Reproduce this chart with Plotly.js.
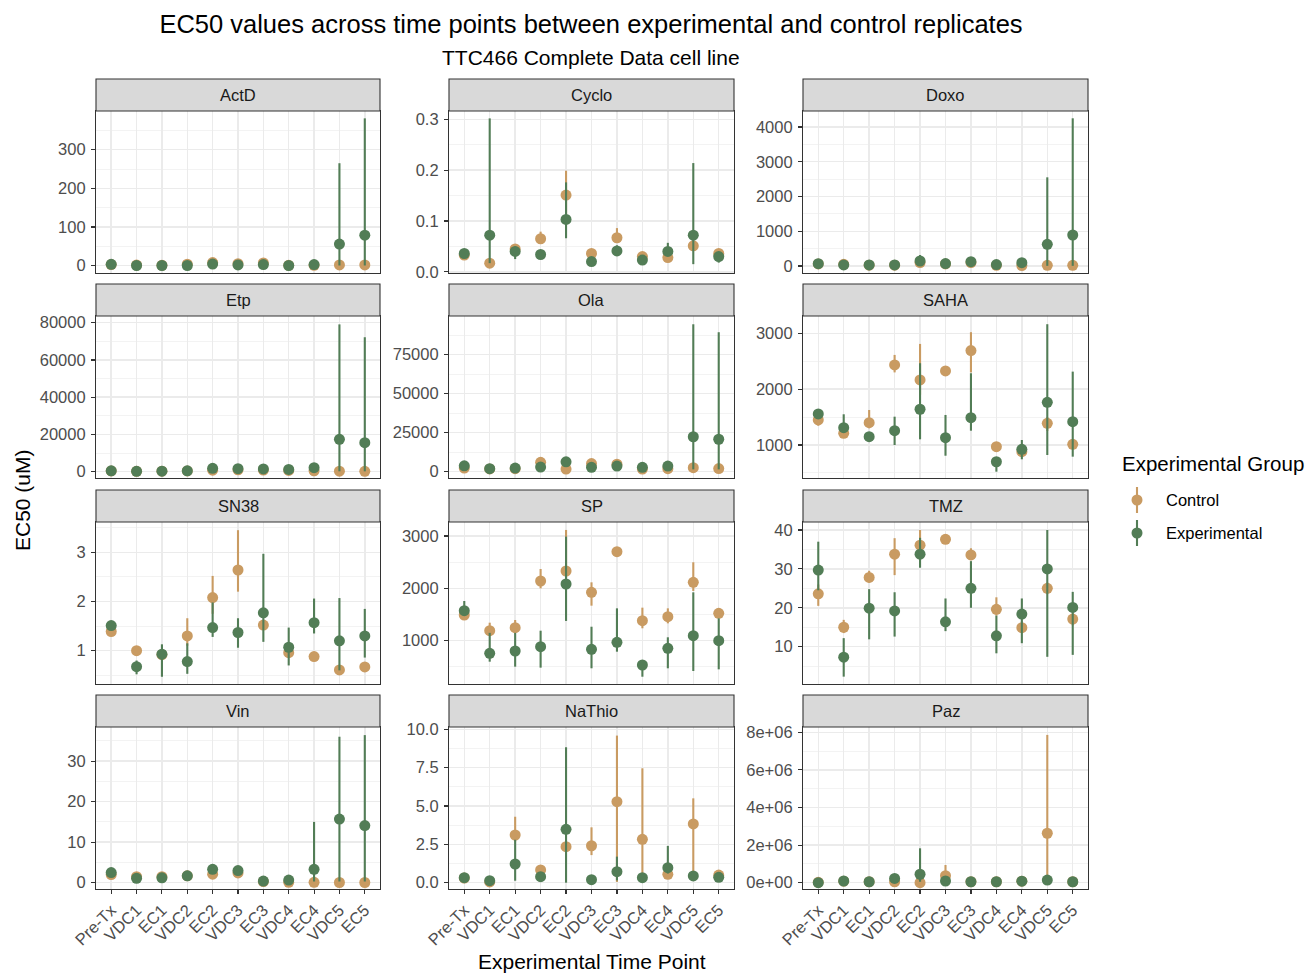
<!DOCTYPE html>
<html>
<head>
<meta charset="utf-8">
<script src="https://cdn.plot.ly/plotly-3.0.1.min.js"></script>
<style>
  html, body { margin: 0; padding: 0; background: #ffffff; }
  #chart { width: 1312px; height: 973px; }
</style>
</head>
<body>
<div id="chart"></div>
<script>
// Time points on the x axis
const timePoints = ['Pre-Tx', 'VDC1', 'EC1', 'VDC2', 'EC2', 'VDC3', 'EC3', 'VDC4', 'EC4', 'VDC5', 'EC5'];
const drugs = ['ActD', 'Cyclo', 'Doxo', 'Etp', 'Ola', 'SAHA', 'SN38', 'SP', 'TMZ', 'Vin', 'NaThio', 'Paz'];

// EC50 (uM): point estimate with lower / upper bound, per group
const actdCtrl   = [3, 1.5, 1, 4, 8, 5, 7, 1, 1, 2, 2];
const actdCtrlLo = [2, 1, 0.5, 3, 6, 4, 5, 0.5, 0.5, 1, 1];
const actdCtrlHi = [4, 2, 1.5, 5, 10, 6, 9, 1.5, 1.5, 3, 3];
const actdExp    = [3.6, 0.5, 0.5, 0.5, 4.3, 2, 3, 0.5, 3, 56, 79];
const actdExpLo  = [2.5, 0.2, 0.2, 0.2, 3, 1, 2, 0.2, 2, 0.5, 0.5];
const actdExpHi  = [5, 1, 1, 1, 6, 3, 4, 1, 4, 265, 381];

const cycloCtrl   = [0.033, 0.017, 0.045, 0.065, 0.151, 0.036, 0.067, 0.030, 0.028, 0.051, 0.036];
const cycloCtrlLo = [0.030, 0.015, 0.040, 0.058, 0.105, 0.033, 0.058, 0.027, 0.025, 0.045, 0.033];
const cycloCtrlHi = [0.036, 0.019, 0.050, 0.079, 0.199, 0.040, 0.086, 0.033, 0.031, 0.057, 0.039];
const cycloExp    = [0.036, 0.072, 0.040, 0.034, 0.103, 0.020, 0.041, 0.023, 0.040, 0.072, 0.030];
const cycloExpLo  = [0.033, 0.017, 0.025, 0.030, 0.066, 0.017, 0.035, 0.020, 0.033, 0.015, 0.018];
const cycloExpHi  = [0.040, 0.302, 0.050, 0.038, 0.176, 0.023, 0.052, 0.026, 0.057, 0.214, 0.038];

const doxoCtrl   = [60, 50, 25, 25, 100, 60, 100, 20, 15, 20, 20];
const doxoCtrlLo = [40, 30, 15, 15, 60, 40, 70, 10, 5, 10, 10];
const doxoCtrlHi = [80, 70, 35, 35, 140, 80, 130, 30, 25, 30, 30];
const doxoExp    = [67, 30, 30, 30, 144, 70, 124, 40, 95, 624, 892];
const doxoExpLo  = [40, 15, 15, 15, 60, 40, 80, 20, 40, 5, 5];
const doxoExpHi  = [95, 45, 45, 45, 317, 100, 170, 60, 150, 2552, 4250];

const etpCtrl   = [400, 200, 300, 400, 800, 1000, 900, 700, 500, 300, 200];
const etpCtrlLo = [200, 100, 150, 200, 400, 600, 500, 400, 300, 150, 100];
const etpCtrlHi = [600, 300, 450, 600, 1200, 1400, 1300, 1000, 700, 450, 300];
const etpExp    = [500, 200, 300, 500, 1800, 1600, 1500, 1200, 2150, 17400, 15600];
const etpExpLo  = [300, 100, 150, 300, 1000, 1000, 900, 700, 1200, 200, 200];
const etpExpHi  = [700, 300, 450, 700, 2600, 2200, 2100, 1700, 3000, 79100, 72200];

const olaCtrl   = [2300, 1800, 1900, 6000, 1700, 5200, 4800, 1700, 1900, 2600, 2000];
const olaCtrlLo = [1800, 1400, 1500, 5000, 1300, 4200, 4000, 1300, 1500, 2000, 1500];
const olaCtrlHi = [2800, 2200, 2300, 7000, 2100, 6200, 5600, 2100, 2300, 3200, 2500];
const olaExp    = [3800, 1900, 2300, 3000, 6300, 2800, 3600, 2800, 3600, 22400, 20800];
const olaExpLo  = [3000, 1500, 1800, 2400, 5200, 2200, 2900, 2200, 2900, 1500, 1500];
const olaExpHi  = [4600, 2300, 2800, 3600, 7400, 3400, 4300, 3400, 4300, 94500, 89400];

const sahaCtrl   = [1448, 1210, 1400, 2434, 2165, 2326, 2690, 970, 880, 1389, 1012];
const sahaCtrlLo = [1346, 1150, 1300, 2300, 1900, 2250, 2300, 900, 850, 1250, 950];
const sahaCtrlHi = [1500, 1280, 1627, 2613, 2810, 2400, 3020, 1050, 910, 1500, 1080];
const sahaExp    = [1556, 1310, 1149, 1256, 1640, 1132, 1490, 700, 923, 1765, 1418];
const sahaExpLo  = [1480, 1230, 1080, 1000, 1102, 808, 1256, 522, 744, 821, 791];
const sahaExpHi  = [1620, 1550, 1230, 1507, 2464, 1538, 2285, 780, 1090, 3163, 2314];

const sn38Ctrl   = [1.39, 1.00, 0.92, 1.30, 2.08, 2.64, 1.52, 0.96, 0.88, 0.61, 0.67];
const sn38CtrlLo = [1.33, 0.95, 0.85, 1.10, 1.75, 2.20, 1.45, 0.90, 0.83, 0.57, 0.62];
const sn38CtrlHi = [1.45, 1.05, 1.00, 1.66, 2.52, 3.45, 1.60, 1.02, 0.93, 0.66, 0.72];
const sn38Exp    = [1.51, 0.675, 0.93, 0.78, 1.47, 1.37, 1.77, 1.07, 1.57, 1.20, 1.30];
const sn38ExpLo  = [1.42, 0.52, 0.47, 0.53, 1.28, 1.06, 1.18, 0.70, 1.35, 0.60, 0.86];
const sn38ExpHi  = [1.60, 0.80, 1.13, 1.15, 1.98, 1.66, 2.97, 1.47, 2.06, 2.07, 1.85];

const spCtrl   = [1491, 1191, 1248, 2140, 2331, 1924, 2700, 1382, 1459, 2115, 1522];
const spCtrlLo = [1440, 1100, 1150, 2000, 2200, 1669, 2650, 1237, 1332, 1950, 1450];
const spCtrlHi = [1540, 1344, 1395, 2370, 3115, 2115, 2750, 1631, 1618, 2498, 1600];
const spExp    = [1573, 759, 803, 885, 2083, 835, 969, 536, 854, 1096, 1000];
const spExpLo  = [1500, 599, 504, 485, 1377, 473, 790, 312, 473, 421, 453];
const spExpHi  = [1758, 1150, 1150, 1191, 2987, 1267, 1618, 620, 1065, 1924, 1427];

const tmzCtrl   = [23.6, 15.0, 27.8, 33.8, 36.1, 37.6, 33.6, 19.6, 14.9, 25.0, 17.1];
const tmzCtrlLo = [20.5, 13.5, 26.5, 28.4, 34.5, 36.5, 32.5, 18.0, 13.5, 23.5, 15.5];
const tmzCtrlHi = [26.0, 16.9, 29.5, 37.9, 40.0, 38.5, 35.3, 22.7, 16.5, 26.5, 18.5];
const tmzExp    = [29.7, 7.3, 19.9, 19.2, 33.8, 16.4, 25.0, 12.8, 18.4, 30.0, 20.1];
const tmzExpLo  = [24.5, 2.3, 11.9, 12.6, 30.3, 14.0, 20.0, 8.3, 10.9, 7.4, 7.9];
const tmzExpHi  = [37.0, 12.2, 24.8, 24.0, 38.0, 22.4, 32.0, 18.0, 22.4, 40.0, 24.1];

const vinCtrl   = [2.0, 1.5, 1.5, 1.7, 2.1, 2.4, 0.3, 0.1, 0.1, 0.05, 0.05];
const vinCtrlLo = [1.7, 1.2, 1.2, 1.4, 1.8, 2.1, 0.2, 0.05, 0.05, 0.02, 0.02];
const vinCtrlHi = [2.3, 1.8, 1.8, 2.0, 2.4, 2.7, 0.4, 0.15, 0.15, 0.08, 0.08];
const vinExp    = [2.5, 1.1, 1.2, 1.7, 3.3, 3.0, 0.4, 0.65, 3.3, 15.7, 14.1];
const vinExpLo  = [2.2, 0.8, 0.9, 1.4, 2.8, 2.6, 0.3, 0.4, 0.3, 0.3, 0.3];
const vinExpHi  = [2.8, 1.4, 1.5, 2.0, 3.8, 3.4, 0.5, 0.9, 15.0, 36.0, 36.4];

const nathioCtrl   = [0.30, 0.05, 3.11, 0.83, 2.35, 2.41, 5.28, 2.83, 0.55, 3.83, 0.50];
const nathioCtrlLo = [0.25, 0.02, 2.70, 0.70, 2.20, 1.80, 0.05, 0.40, 0.45, 0.40, 0.40];
const nathioCtrlHi = [0.35, 0.08, 4.30, 0.95, 2.50, 3.61, 9.59, 7.46, 0.65, 5.50, 0.60];
const nathioExp    = [0.33, 0.13, 1.22, 0.39, 3.48, 0.20, 0.72, 0.33, 0.98, 0.44, 0.35];
const nathioExpLo  = [0.28, 0.08, 0.13, 0.30, 0.00, 0.15, 0.15, 0.28, 0.60, 0.38, 0.30];
const nathioExpHi  = [0.38, 0.18, 2.80, 0.48, 8.83, 0.25, 1.70, 0.38, 2.40, 0.50, 0.40];

const pazCtrl   = [20000, 80000, 50000, 50000, 0, 370000, 50000, 50000, 80000, 2630000, 50000];
const pazCtrlLo = [10000, 60000, 30000, 30000, 0, 200000, 30000, 30000, 60000, 100000, 30000];
const pazCtrlHi = [30000, 100000, 70000, 70000, 20000, 940000, 70000, 70000, 100000, 7860000, 70000];
const pazExp    = [0, 90000, 50000, 230000, 450000, 90000, 50000, 50000, 80000, 140000, 50000];
const pazExpLo  = [0, 70000, 30000, 180000, 50000, 70000, 30000, 30000, 60000, 110000, 30000];
const pazExpHi  = [20000, 110000, 70000, 280000, 1830000, 110000, 70000, 70000, 100000, 170000, 70000];

// Y tick values and labels per facet
const actdTicks = [0, 100, 200, 300];
const cycloTicks = [0, 0.1, 0.2, 0.3];
const cycloTickText = ['0.0', '0.1', '0.2', '0.3'];
const doxoTicks = [0, 1000, 2000, 3000, 4000];
const etpTicks = [0, 20000, 40000, 60000, 80000];
const olaTicks = [0, 25000, 50000, 75000];
const sahaTicks = [1000, 2000, 3000];
const sn38Ticks = [1, 2, 3];
const spTicks = [1000, 2000, 3000];
const tmzTicks = [10, 20, 30, 40];
const vinTicks = [0, 10, 20, 30];
const nathioTicks = [0, 2.5, 5, 7.5, 10];
const nathioTickText = ['0.0', '2.5', '5.0', '7.5', '10.0'];
const pazTicks = [0, 2e6, 4e6, 6e6, 8e6];
const pazTickText = ['0e+00', '2e+06', '4e+06', '6e+06', '8e+06'];

const panels = [
  { ctrl: [actdCtrl, actdCtrlLo, actdCtrlHi], exp: [actdExp, actdExpLo, actdExpHi], ticks: actdTicks, range: [-18.9, 400] },
  { ctrl: [cycloCtrl, cycloCtrlLo, cycloCtrlHi], exp: [cycloExp, cycloExpLo, cycloExpHi], ticks: cycloTicks, text: cycloTickText, range: [-0.0024, 0.3165] },
  { ctrl: [doxoCtrl, doxoCtrlLo, doxoCtrlHi], exp: [doxoExp, doxoExpLo, doxoExpHi], ticks: doxoTicks, range: [-201, 4460] },
  { ctrl: [etpCtrl, etpCtrlLo, etpCtrlHi], exp: [etpExp, etpExpLo, etpExpHi], ticks: etpTicks, range: [-3380, 83600] },
  { ctrl: [olaCtrl, olaCtrlLo, olaCtrlHi], exp: [olaExp, olaExpLo, olaExpHi], ticks: olaTicks, range: [-4040, 99800] },
  { ctrl: [sahaCtrl, sahaCtrlLo, sahaCtrlHi], exp: [sahaExp, sahaExpLo, sahaExpHi], ticks: sahaTicks, range: [409, 3310] },
  { ctrl: [sn38Ctrl, sn38CtrlLo, sn38CtrlHi], exp: [sn38Exp, sn38ExpLo, sn38ExpHi], ticks: sn38Ticks, range: [0.323, 3.616] },
  { ctrl: [spCtrl, spCtrlLo, spCtrlHi], exp: [spExp, spExpLo, spExpHi], ticks: spTicks, range: [173, 3267] },
  { ctrl: [tmzCtrl, tmzCtrlLo, tmzCtrlHi], exp: [tmzExp, tmzExpLo, tmzExpHi], ticks: tmzTicks, range: [0.41, 42.06] },
  { ctrl: [vinCtrl, vinCtrlLo, vinCtrlHi], exp: [vinExp, vinExpLo, vinExpHi], ticks: vinTicks, range: [-1.55, 38.4] },
  { ctrl: [nathioCtrl, nathioCtrlLo, nathioCtrlHi], exp: [nathioExp, nathioExpLo, nathioExpHi], ticks: nathioTicks, text: nathioTickText, range: [-0.41, 10.15] },
  { ctrl: [pazCtrl, pazCtrlLo, pazCtrlHi], exp: [pazExp, pazExpLo, pazExpHi], ticks: pazTicks, text: pazTickText, range: [-335000, 8280000] }
];

const groups = [
  { name: 'Control', key: 'ctrl', color: '#C99B62' },
  { name: 'Experimental', key: 'exp', color: '#527D56' }
];

// Page geometry (pixels) for the 4 x 3 facet grid
const W = 1312, H = 973;
const colPx = [[96, 380], [449, 734], [803, 1088]];
const rowPx = [[111, 273], [316, 478], [522, 684], [727, 889]];
const stripPx = [[79, 111], [284, 316], [490, 522], [695, 727]];
const fx = px => px / W;
const fy = px => 1 - px / H;

const FONT = 'Liberation Sans, Arial, Helvetica, sans-serif';
const traces = [];
const layout = {
  width: W, height: H,
  margin: { l: 0, r: 0, t: 0, b: 0 },
  paper_bgcolor: '#ffffff',
  plot_bgcolor: '#ffffff',
  font: { family: FONT, color: '#000000' },
  showlegend: false,
  title: {
    text: 'EC50 values across time points between experimental and control replicates',
    font: { size: 25.5, color: '#000000', family: FONT },
    xref: 'container', yref: 'container', x: 591 / W, y: fy(24), xanchor: 'center', yanchor: 'middle'
  },
  shapes: [],
  annotations: [
    { text: 'TTC466 Complete Data cell line', xref: 'paper', yref: 'paper', x: 591 / W, y: fy(57),
      xanchor: 'center', yanchor: 'middle', showarrow: false, font: { size: 21, color: '#000000' } },
    { text: 'Experimental Time Point', xref: 'paper', yref: 'paper', x: 592 / W, y: fy(961),
      xanchor: 'center', yanchor: 'middle', showarrow: false, font: { size: 21, color: '#000000' } },
    { text: 'EC50 (uM)', xref: 'paper', yref: 'paper', x: fx(22), y: fy(500), textangle: -90,
      xanchor: 'center', yanchor: 'middle', showarrow: false, font: { size: 21, color: '#000000' } }
  ]
};

// Minor gridlines sit halfway between the major breaks
function minorBreaks(ticks, range) {
  const step = ticks[1] - ticks[0];
  const out = [];
  for (let v = ticks[0] - step / 2; v <= range[1]; v += step) {
    if (v >= range[0]) out.push(v);
  }
  return out;
}

panels.forEach((p, i) => {
  const row = Math.floor(i / 3), col = i % 3;
  const suffix = i === 0 ? '' : String(i + 1);
  const xName = 'x' + suffix, yName = 'y' + suffix;

  groups.forEach(g => {
    const [mid, lo, hi] = p[g.key];
    traces.push({
      type: 'scatter', mode: 'markers',
      x: timePoints, y: mid,
      xaxis: xName, yaxis: yName,
      name: g.name, legendgroup: g.name,
      marker: { color: g.color, size: 11, line: { width: 0 } },
      error_y: {
        type: 'data', symmetric: false,
        array: hi.map((h, k) => h - mid[k]),
        arrayminus: lo.map((l, k) => mid[k] - l),
        width: 0, thickness: 2.1, color: g.color
      },
      hoverinfo: 'x+y+name'
    });
  });

  const bottomRow = row === 3;
  layout['xaxis' + suffix] = {
    domain: [fx(colPx[col][0]), fx(colPx[col][1])],
    anchor: yName,
    type: 'category', categoryorder: 'array', categoryarray: timePoints,
    range: [-0.6, 10.6],
    showgrid: true, gridcolor: '#ebebeb', gridwidth: 1.5,
    zeroline: false,
    showline: true, mirror: true, linecolor: '#333333', linewidth: 1.1,
    ticks: bottomRow ? 'outside' : '', ticklen: 4, tickwidth: 1.1, tickcolor: '#333333',
    showticklabels: bottomRow, tickangle: -45,
    tickfont: { size: 16.5, color: '#4d4d4d', family: FONT },
    fixedrange: true
  };
  layout['yaxis' + suffix] = {
    domain: [fy(rowPx[row][1]), fy(rowPx[row][0])],
    anchor: xName,
    range: p.range,
    tickmode: 'array', tickvals: p.ticks,
    ticktext: p.text ? p.text : p.ticks.map(v => String(v)),
    ticks: 'outside', ticklen: 4, tickwidth: 1.1, tickcolor: '#333333',
    ticklabelstandoff: 2,
    tickfont: { size: 16.5, color: '#4d4d4d', family: FONT },
    showgrid: true, gridcolor: '#ebebeb', gridwidth: 1.5,
    minor: { tickmode: 'array', tickvals: minorBreaks(p.ticks, p.range), showgrid: true,
             gridcolor: '#f0f0f0', gridwidth: 0.8, ticks: '' },
    zeroline: false,
    showline: true, mirror: true, linecolor: '#333333', linewidth: 1.1,
    fixedrange: true
  };

  // Facet strip
  layout.shapes.push({
    type: 'rect', xref: 'paper', yref: 'paper', layer: 'above',
    x0: fx(colPx[col][0]), x1: fx(colPx[col][1]),
    y0: fy(stripPx[row][1]), y1: fy(stripPx[row][0]),
    fillcolor: '#d9d9d9', line: { color: '#333333', width: 1.1 }
  });
  layout.annotations.push({
    text: drugs[i], xref: 'paper', yref: 'paper',
    x: fx((colPx[col][0] + colPx[col][1]) / 2), y: fy((stripPx[row][0] + stripPx[row][1]) / 2),
    xanchor: 'center', yanchor: 'middle', showarrow: false,
    font: { size: 16.5, color: '#1a1a1a', family: FONT }
  });
});

// Legend: title plus one point-range key per group
const legendX = 1137, legendRows = [500, 533], keyR = 5.5, keyHalf = 13;
layout.annotations.push({
  text: 'Experimental Group', xref: 'paper', yref: 'paper', x: fx(1120), y: fy(463),
  xanchor: 'left', yanchor: 'middle', showarrow: false, font: { size: 20.5, color: '#000000' }
});
groups.forEach((g, k) => {
  const cy = legendRows[k];
  layout.shapes.push({
    type: 'line', xref: 'paper', yref: 'paper', layer: 'above',
    x0: fx(legendX), x1: fx(legendX), y0: fy(cy - keyHalf), y1: fy(cy + keyHalf),
    line: { color: g.color, width: 2.1 }
  });
  layout.shapes.push({
    type: 'circle', xref: 'paper', yref: 'paper', layer: 'above',
    x0: fx(legendX - keyR), x1: fx(legendX + keyR), y0: fy(cy + keyR), y1: fy(cy - keyR),
    fillcolor: g.color, line: { width: 0 }
  });
  layout.annotations.push({
    text: g.name, xref: 'paper', yref: 'paper', x: fx(1164), y: fy(cy),
    xanchor: 'left', yanchor: 'middle', showarrow: false, font: { size: 16.5, color: '#000000' }
  });
});

Plotly.newPlot('chart', traces, layout, { staticPlot: true, displayModeBar: false });
</script>
</body>
</html>
